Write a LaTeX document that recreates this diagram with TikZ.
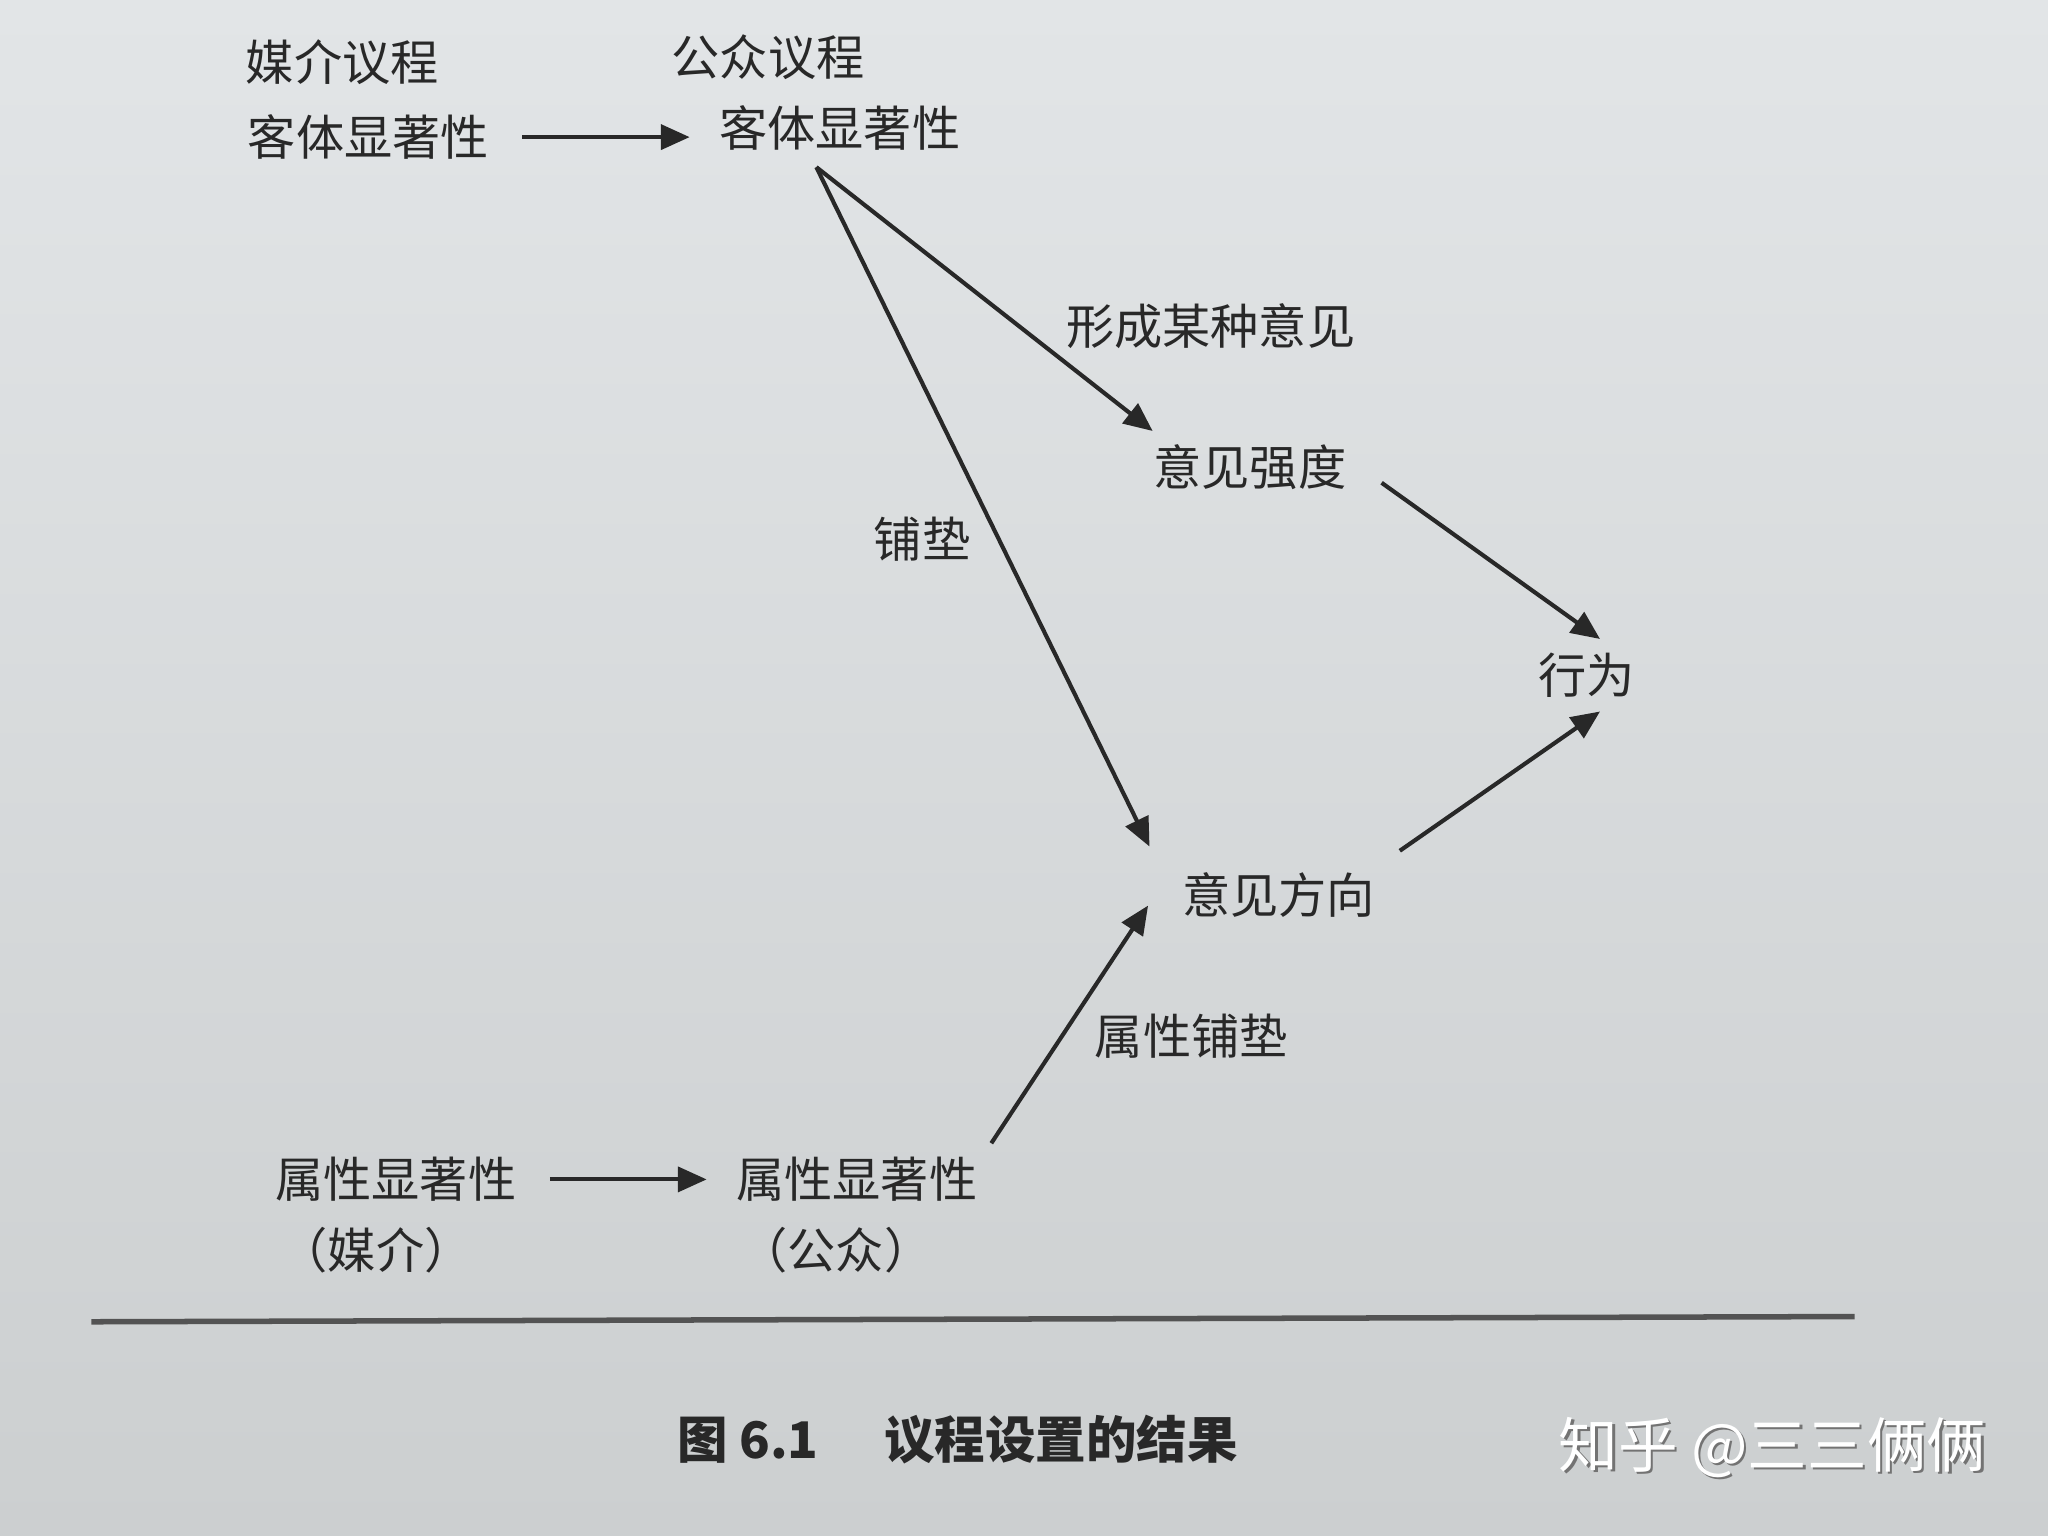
\documentclass[tikz,border=0pt]{standalone}
\usepackage{fontspec}
\setmainfont{Noto Sans CJK SC}
\usetikzlibrary{arrows.meta}

\definecolor{paper}{RGB}{226,229,231}
\definecolor{paperlow}{RGB}{204,207,208}
\definecolor{ink}{RGB}{40,40,40}

\begin{document}
\begin{tikzpicture}[
		txt/.style={text=ink, inner sep=1mm, font=\fontsize{10.5}{12}\selectfont},
		arr/.style={draw=ink, line width=0.9pt, -{Triangle[length=2.2mm,width=1.9mm]}}
	]
		\shade[top color=paper, bottom color=paperlow] (0,0) rectangle (15.68,11.76);
		\useasboundingbox (0,0) rectangle (15.68,11.76);
		% top row
		\node[txt] (magenda) at (2.62,11.28) {媒介议程};
		\node[txt] (objm) at (2.82,10.71) {客体显著性};
		\node[txt] (pagenda) at (5.88,11.32) {公众议程};
		\node[txt] (objp) at (6.43,10.78) {客体显著性};
		\coordinate (fork) at (6.25,10.48);
		% middle
		\node[txt] (form) at (9.27,9.26) {形成某种意见};
		\node[txt] (strength) at (9.57,8.18) {意见强度};
		\node[txt] (prime) at (7.06,7.63) {铺垫};
		\node[txt] (act) at (12.15,6.59) {行为};
		\node[txt] (direction) at (9.79,4.91) {意见方向};
		\node[txt] (aprime) at (9.12,3.83) {属性铺垫};
		% bottom row
		\node[txt] (attm) at (3.03,2.73) {属性显著性};
		\node[txt] (attmlab) at (2.88,2.19) {（媒介）};
		\node[txt] (attp) at (6.56,2.73) {属性显著性};
		\node[txt] (attplab) at (6.40,2.19) {（公众）};
		% connectors
		\draw[arr, shorten <=1.5mm, shorten >=1.2mm] (objm.east) -- (objp.west |- objm.east);
		\draw[arr] (fork) -- ([xshift=1mm]strength.north west);
		\draw[arr, shorten >=1mm] (fork) -- ([xshift=-1mm]direction.north west);
		\draw[arr, shorten <=2mm] (strength.east) -- ([xshift=1mm]act.north);
		\draw[arr, shorten <=1mm] (direction.north east) -- ([xshift=1mm]act.south);
		\draw[arr, shorten >=1mm] (attp.north east) -- ([xshift=-1mm]direction.west);
		\draw[arr, shorten <=1.5mm, shorten >=1.2mm] (attm.east) -- (attp.west);
		% rule and caption
		\coordinate (ruleL) at (0.70,1.64);
		\coordinate (ruleR) at (14.20,1.68);
		\draw[ink!80, line width=1.2pt] (ruleL) -- (ruleR);
		\node[txt, font=\fontsize{11}{13}\selectfont\bfseries] (caption) at (7.33,0.74) {图 6.1\hspace{1.3em}议程设置的结果};
		\node[text=black!55, font=\fontsize{13}{15}\selectfont] (markshadow) at (13.59,0.66) {知乎 @三三俩俩};
		\node[text=white, font=\fontsize{13}{15}\selectfont] (mark) at (13.57,0.68) {知乎 @三三俩俩};
	\end{tikzpicture}
\end{document}
